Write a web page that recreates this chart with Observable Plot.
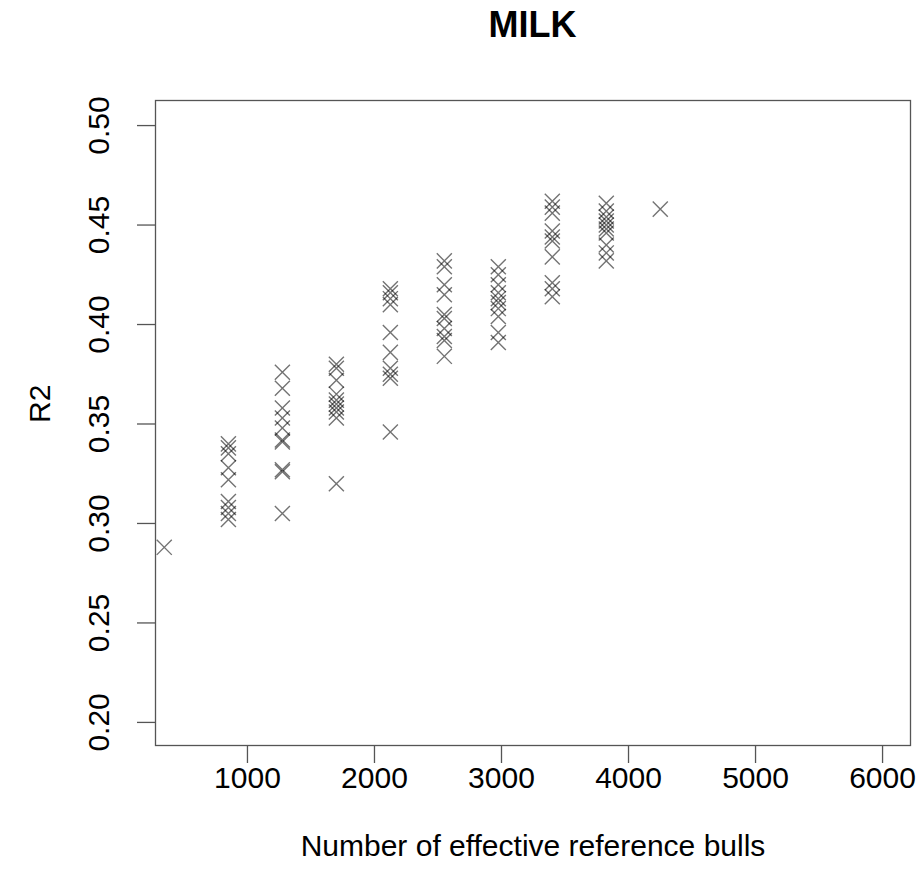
<!DOCTYPE html>
<html>
<head>
<meta charset="utf-8">
<script src="https://cdn.jsdelivr.net/npm/d3@7"></script>
<script src="https://cdn.jsdelivr.net/npm/@observablehq/plot@0.6"></script>
<style>
  html, body { margin: 0; padding: 0; background: #fff; }
  #title { width: 755px; margin-left: 155px; height: 50px; line-height: 50px; text-align: center;
           font-family: "Liberation Sans", Arial, sans-serif; font-weight: bold; font-size: 36px; color: #000; }
</style>
</head>
<body>
<div id="title">MILK</div>
<div id="chart"></div>
<script>
// Number of effective reference bulls for each group of replicates
const refBulls = [345, 850, 1275, 1700, 2125, 2550, 2975, 3400, 3825, 4250];

// R2 values, one array per reference-size group
const r2_345  = [0.288];
const r2_850  = [0.340, 0.338, 0.335, 0.328, 0.322, 0.311, 0.308, 0.305, 0.302];
const r2_1275 = [0.376, 0.368, 0.358, 0.353, 0.348, 0.342, 0.341, 0.327, 0.326, 0.305];
const r2_1700 = [0.380, 0.378, 0.372, 0.365, 0.362, 0.360, 0.358, 0.356, 0.353, 0.320];
const r2_2125 = [0.418, 0.416, 0.413, 0.410, 0.396, 0.386, 0.378, 0.375, 0.373, 0.346];
const r2_2550 = [0.432, 0.429, 0.420, 0.415, 0.405, 0.403, 0.398, 0.394, 0.392, 0.384];
const r2_2975 = [0.429, 0.425, 0.420, 0.416, 0.413, 0.411, 0.408, 0.404, 0.396, 0.391];
const r2_3400 = [0.462, 0.459, 0.456, 0.447, 0.444, 0.442, 0.434, 0.421, 0.418, 0.414];
const r2_3825 = [0.461, 0.457, 0.454, 0.452, 0.450, 0.448, 0.446, 0.440, 0.436, 0.432];
const r2_4250 = [0.458];

const r2Groups = [r2_345, r2_850, r2_1275, r2_1700, r2_2125, r2_2550, r2_2975, r2_3400, r2_3825, r2_4250];

const xTicks = [1000, 2000, 3000, 4000, 5000, 6000];
const yTicks = [0.20, 0.25, 0.30, 0.35, 0.40, 0.45, 0.50];
const xLabel = "Number of effective reference bulls";
const yLabel = "R2";

const data = refBulls.flatMap((n, i) => r2Groups[i].map(r => ({bulls: n, r2: r})));

const chart = Plot.plot({
  width: 924,
  height: 841,
  marginLeft: 155,
  marginRight: 14,
  marginTop: 50,
  marginBottom: 146,
  style: {fontFamily: "'Liberation Sans', Arial, sans-serif", fontSize: "30px", color: "#000", background: "#fff"},
  x: {domain: [276, 6220]},
  y: {domain: [0.1884, 0.5126]},
  marks: [
    Plot.frame({stroke: "#555", strokeWidth: 1.3}),
    Plot.axisX({ticks: xTicks, tickSize: 18, tickPadding: 3, stroke: "#555", strokeWidth: 1.3,
                fill: "#000", fontSize: 30, label: null, tickFormat: d => String(d)}),
    Plot.axisY({ticks: yTicks, tickSize: 18, tickPadding: 29, tickRotate: -90, stroke: "#555", strokeWidth: 1.3,
                fill: "#000", fontSize: 30, label: null, tickFormat: d => d.toFixed(2)}),
    Plot.text([yLabel], {frameAnchor: "left", dx: -115, rotate: -90, fontSize: 30, fill: "#000"}),
    Plot.text([xLabel], {frameAnchor: "bottom", dy: 110, fontSize: 30, fill: "#000"}),
    Plot.dot(data, {x: "bulls", y: "r2", symbol: "times", r: 6.9, stroke: "#000", strokeOpacity: 0.55, strokeWidth: 1.4})
  ]
});
document.getElementById("chart").appendChild(chart);
</script>
</body>
</html>
